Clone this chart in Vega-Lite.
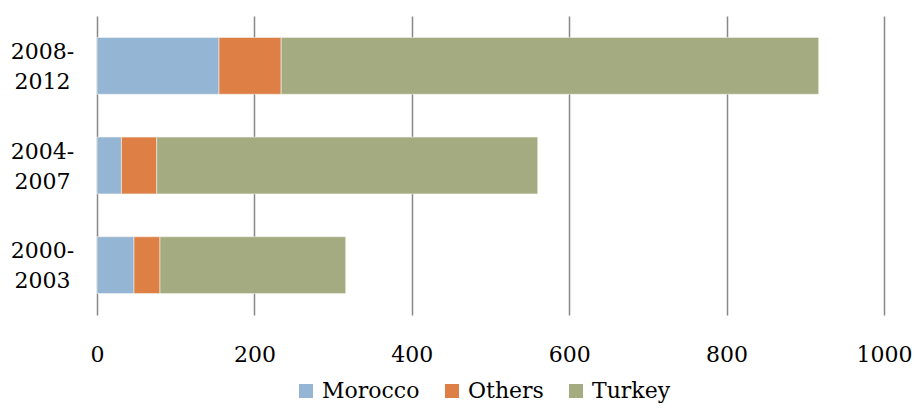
{
  "$schema": "https://vega.github.io/schema/vega-lite/v6.json",
  "autosize": "none",
  "width": 787,
  "height": 299,
  "padding": {"left": 97, "top": 16, "right": 30, "bottom": 102},
  "background": "white",
  "data": {
    "values": [
      {"period": "2008-2012", "origin": "Morocco", "rank": 1, "value": 155},
      {"period": "2008-2012", "origin": "Others", "rank": 2, "value": 79},
      {"period": "2008-2012", "origin": "Turkey", "rank": 3, "value": 683},
      {"period": "2004-2007", "origin": "Morocco", "rank": 1, "value": 31},
      {"period": "2004-2007", "origin": "Others", "rank": 2, "value": 45},
      {"period": "2004-2007", "origin": "Turkey", "rank": 3, "value": 484},
      {"period": "2000-2003", "origin": "Morocco", "rank": 1, "value": 47},
      {"period": "2000-2003", "origin": "Others", "rank": 2, "value": 33},
      {"period": "2000-2003", "origin": "Turkey", "rank": 3, "value": 236}
    ]
  },
  "mark": {"type": "bar", "stroke": "#f4f4ee", "strokeWidth": 0.6},
  "encoding": {
    "y": {
      "field": "period",
      "type": "nominal",
      "sort": ["2008-2012", "2004-2007", "2000-2003"],
      "scale": {"paddingInner": 0.43, "paddingOuter": 0.215},
      "axis": {
        "title": null,
        "domain": false,
        "ticks": false,
        "tickSize": 0,
        "labelAlign": "center",
        "labelBaseline": "middle",
        "labelPadding": 55,
        "labelOffset": -14,
        "labelFontSize": 22,
        "labelLineHeight": 30,
        "labelColor": "#000000",
        "labelExpr": "[slice(datum.label, 0, 5), slice(datum.label, 5)]"
      }
    },
    "x": {
      "field": "value",
      "type": "quantitative",
      "stack": "zero",
      "scale": {"domain": [0, 1000], "nice": false},
      "axis": {
        "title": null,
        "values": [0, 200, 400, 600, 800, 1000],
        "format": "d",
        "domain": false,
        "ticks": false,
        "tickSize": 0,
        "grid": true,
        "gridColor": "#888888",
        "gridWidth": 1.5,
        "gridOpacity": 1,
        "labelPadding": 29,
        "labelFontSize": 22,
        "labelColor": "#000000",
        "labelFlush": false
      }
    },
    "color": {
      "field": "origin",
      "type": "nominal",
      "scale": {
        "domain": ["Morocco", "Others", "Turkey"],
        "range": ["#94b5d3", "#de8046", "#a5ab80"]
      },
      "legend": {
        "title": null,
        "orient": "none",
        "direction": "horizontal",
        "legendX": 198,
        "legendY": 364,
        "symbolType": "square",
        "symbolSize": 196,
        "symbolStrokeWidth": 0,
        "labelFontSize": 22,
        "labelColor": "#000000",
        "labelOffset": 5,
        "columnPadding": 21
      }
    },
    "order": {"field": "rank", "type": "quantitative"}
  },
  "config": {
    "font": "DejaVu Serif",
    "axis": {"labelFont": "DejaVu Serif"},
    "legend": {"labelFont": "DejaVu Serif"},
    "view": {"stroke": null}
  }
}
